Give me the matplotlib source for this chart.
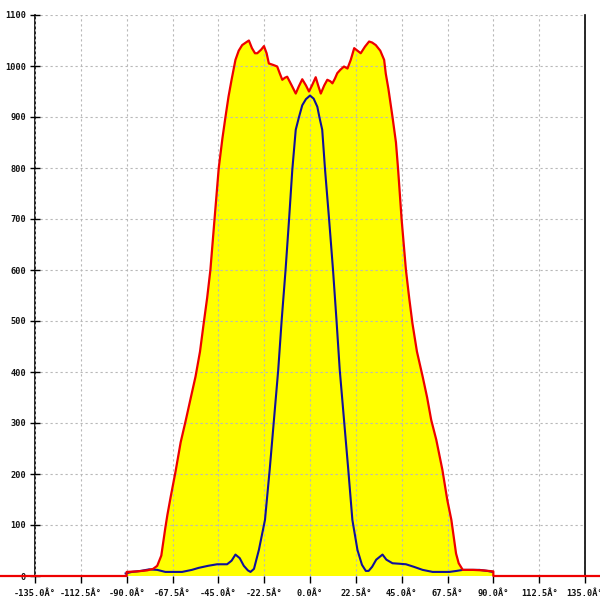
import matplotlib
matplotlib.use("Agg")
import matplotlib.pyplot as plt

# ---- data ----
red_deg = [-180, -90, -90, -85, -80, -77, -75, -73, -71, -70, -68.4, -66, -63.5, -61, -58.5,
           -56.2, -54, -52.2, -50.5, -48.9, -46.9, -44.8, -43, -41.5, -40, -38.5, -36.6, -35,
           -33.3, -31.5, -30, -28.5, -27, -25.9, -24, -22.6, -21.3, -20.2, -18, -16.1, -14.8,
           -13.6, -12.3, -11.2, -9, -7, -5.5, -3.8, -2, -0.5, 1, 2.8, 4, 5.3, 7, 8.5, 10, 11,
           12.2, 13.4, 15, 16.7, 18.4, 20, 21.7, 23.3, 24.9, 27, 29, 30.5, 32.3, 34.5, 36.4,
           37.2, 38.5, 40.5, 42.2, 43.2, 45, 47.1, 48.7, 50.3, 52.5, 55.3, 57.5, 59.5, 62, 65,
           67.4, 69.4, 71.7, 73, 75, 80, 85, 90, 90, 180]
red_val = [0, 0, 8, 9, 11, 14, 20, 40, 95, 120, 155, 205, 262, 305, 350,
           391, 440, 495, 545, 600, 698, 800, 858, 900, 940, 973, 1012, 1030,
           1041, 1046, 1050, 1035, 1025, 1025, 1032, 1039, 1025, 1005, 1002, 999, 985,
           973, 977, 979, 962, 946, 960, 974, 962, 950, 962, 978, 962, 946, 962, 973, 970, 966,
           975, 986, 993, 999, 995, 1012, 1035, 1030, 1025, 1038, 1048, 1046, 1041, 1030, 1012,
           985, 955, 900, 850, 800, 698, 600, 545, 495, 440, 391, 350, 306, 267, 208,
           149, 110, 44, 25, 12, 12, 11, 9, 0, 0]

blue_deg = [-90.5, -87.5, -83, -79, -75, -71, -67, -62.8, -58, -54.6, -50, -45.6, -40.7, -38.5,
            -36.6, -34.5, -32.5, -30.5, -29.2, -27.5, -25.1, -22.1, -19.8, -17.7, -15.6, -13.9,
            -12, -10.3, -8.7, -7, -5.4, -3.8, -2, 0, 1.8, 3.6, 4.6, 6, 7.4, 9.4, 11.3, 13, 14.6,
            16.7, 18.8, 20.8, 23.3, 25.5, 27.4, 28.8, 30.5, 32.5, 35.6, 37.5, 40.5, 44, 47.1,
            51, 55.3, 60.2, 68.4, 72, 75, 79, 83.2, 87, 89.7]
blue_val = [5, 8, 10, 13, 12, 8, 8, 8, 12, 16, 20, 23, 23, 30,
            42, 35, 20, 11, 8, 14, 51, 110, 208, 306, 404, 502,
            600, 698, 796, 875, 900, 923, 935, 942, 936, 920, 900, 875, 796, 698, 600, 502, 404,
            306, 208, 110, 51, 22, 10, 10, 18, 32, 42, 32, 25, 24, 23,
            18, 12, 8, 8, 10, 12, 12, 12, 10, 8]

x_ticks = [-135, -112.5, -90, -67.5, -45, -22.5, 0, 22.5, 45, 67.5, 90, 112.5, 135]
x_labels = ["%.1fÂ°" % t for t in x_ticks]
y_ticks = list(range(0, 1101, 100))

# ---- figure ----
fig = plt.figure(figsize=(6, 6), dpi=100)
ax = fig.add_axes([35 / 600, 24 / 600, 550 / 600, 561 / 600])
ax.set_xlim(-135, 135)
ax.set_ylim(0, 1100)

ax.fill_between(red_deg, red_val, 0, color="#ffff00", linewidth=0, zorder=1)
ax.plot(red_deg, red_val, color="#ee0000", linewidth=1.6, zorder=4, clip_on=False)
ax.plot(blue_deg, blue_val, color="#10109a", linewidth=1.5, zorder=3)

ax.set_axisbelow(False)
ax.grid(True, color="#b8b8b8", linestyle=(0, (2, 2.5)), linewidth=0.8, zorder=2)

ax.set_xticks(x_ticks)
ax.set_xticklabels(x_labels)
ax.set_yticks(y_ticks)
for lab in ax.get_xticklabels() + ax.get_yticklabels():
    lab.set_fontfamily("DejaVu Sans Mono")
    lab.set_fontsize(6.2)
    lab.set_fontweight("bold")
    lab.set_color("#111111")

ax.tick_params(axis="y", direction="inout", length=7, width=1, pad=3)
ax.tick_params(axis="x", direction="out", length=5, width=1, pad=4)

for s in ["top", "bottom"]:
    ax.spines[s].set_visible(False)
for s in ["left", "right"]:
    ax.spines[s].set_linewidth(1.2)
    ax.spines[s].set_color("black")

fig.savefig("out.png", dpi=100)
